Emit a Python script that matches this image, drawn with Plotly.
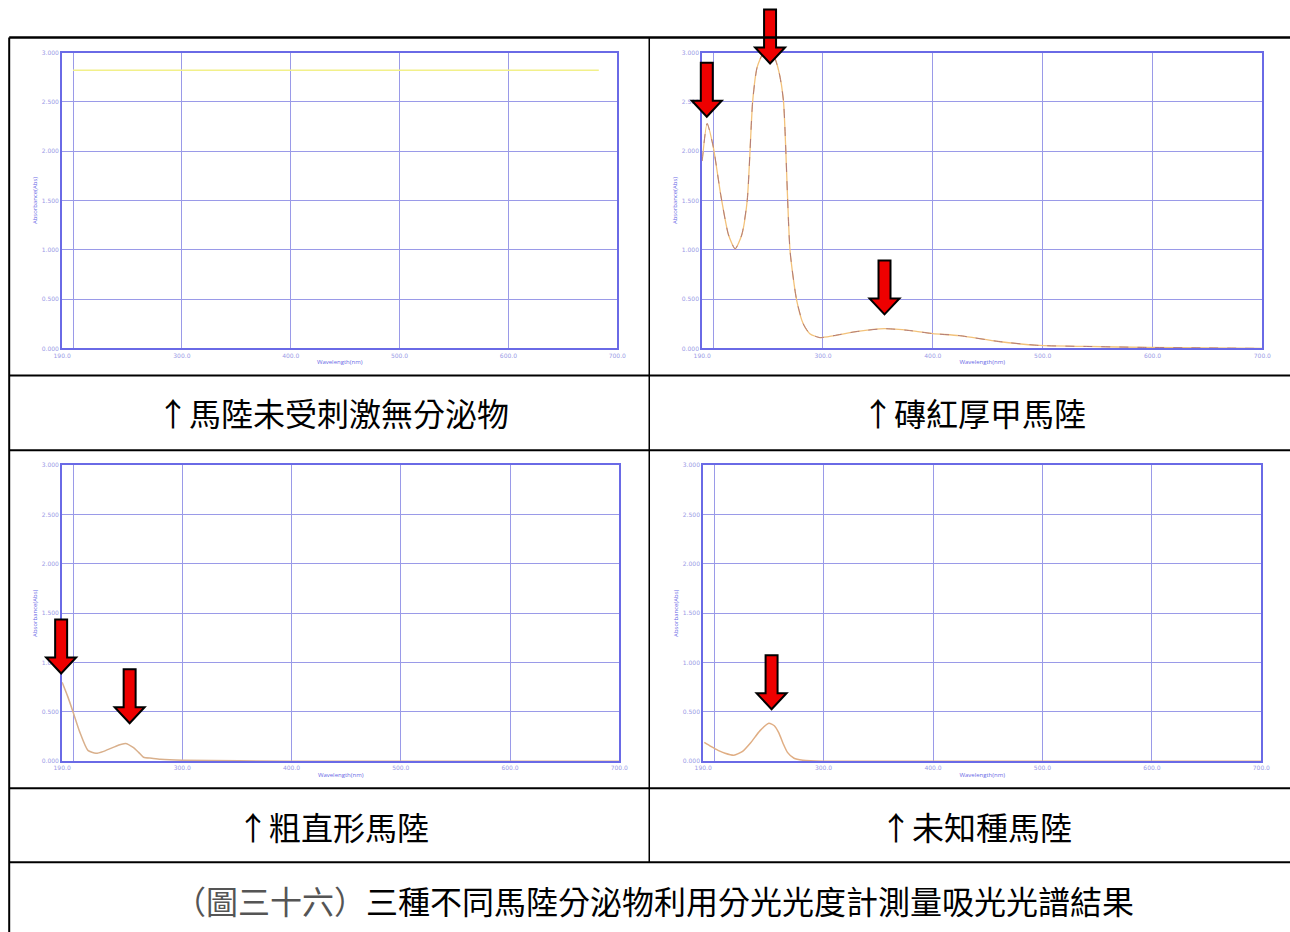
import plotly.graph_objects as go

W, H = 1290, 932

# ---------------- data ----------------
# top-left: 馬陸未受刺激無分泌物 (flat yellow trace)
tl_nm = [200, 683]
tl_abs = [2.82, 2.82]

# top-right: 磚紅厚甲馬陸
tr_nm = [190, 194.5, 200, 207, 214, 220, 226, 231, 236, 240, 245, 250, 255, 260, 264, 270, 276, 282,
         288, 297, 310, 330, 356, 380, 400, 424, 460, 497, 540, 595, 650, 700]
tr_abs = [1.90, 2.28, 2.05, 1.55, 1.15, 1.01, 1.15, 1.50, 2.51, 2.85, 2.98, 3.00, 2.97, 2.80, 2.51, 0.99,
          0.49, 0.25, 0.15, 0.11, 0.13, 0.17, 0.20, 0.18, 0.15, 0.13, 0.07, 0.03, 0.02, 0.01, 0.005, 0.0]

# bottom-left: 粗直形馬陸
bl_nm = [190, 195, 200, 206, 213.6, 221, 228, 234.5, 241, 248, 255, 260, 264.5, 272, 280, 300, 400, 500, 600, 700]
bl_abs = [0.80, 0.66, 0.50, 0.30, 0.11, 0.08, 0.10, 0.13, 0.16, 0.18, 0.14, 0.09, 0.04, 0.03, 0.02, 0.01, 0.0, 0.0, 0.0, 0.0]

# bottom-right: 未知種馬陸
br_nm = [191, 197, 203.6, 210, 218, 226, 233.6, 242, 250, 255, 259, 263, 267, 273, 281, 300, 400, 500, 600, 700]
br_abs = [0.19, 0.15, 0.11, 0.08, 0.06, 0.10, 0.19, 0.31, 0.385, 0.36, 0.29, 0.18, 0.09, 0.03, 0.01, 0.0, 0.0, 0.0, 0.0, 0.0]

# arrow tips (nm, Abs) per panel
tr_arrows = [(194.2, 2.35), (251.8, 2.89), (356, 0.345)]
bl_arrows = [(189.1, 0.89), (251.8, 0.385)]
br_arrows = [(252.5, 0.527)]

x_ticks = [190, 300, 400, 500, 600, 700]
x_ticktext = ["190.0", "300.0", "400.0", "500.0", "600.0", "700.0"]
x_grid = [200, 300, 400, 500, 600]
y_ticks = [0, 0.5, 1.0, 1.5, 2.0, 2.5, 3.0]
y_ticktext = ["0.000", "0.500", "1.000", "1.500", "2.000", "2.500", "3.000"]

captions = ["↑馬陸未受刺激無分泌物", "↑磚紅厚甲馬陸", "↑粗直形馬陸", "↑未知種馬陸"]
fig_caption_a = "（圖三十六）"
fig_caption_b = "三種不同馬陸分泌物利用分光光度計測量吸光光譜結果"

XR = [190, 700]
YR = [0, 3]

# panel pixel boxes (left, right, top, bottom) in the target picture
panels = {
    "tl": (61, 617, 52, 348),
    "tr": (702, 1263, 52, 348),
    "bl": (61, 619, 465, 761),
    "br": (703, 1262, 465, 761),
}

# compensation for the rendering inset observed in the output picture
OX, SX, OY, SY = 7.8, 0.9875, 3.4, 0.993

def px(x):
    return ((x - OX) / SX) / W

def py(y):
    return 1 - ((y - OY) / SY) / H

fig = go.Figure()

axis_color = "#6a6ae6"
grid_color = "#9a9ae8"
tick_font = dict(size=6, color="#9a9ae6", family="DejaVu Sans")

names = ["tl", "tr", "bl", "br"]
for i, key in enumerate(names):
    l, r, t, b = panels[key]
    n = i + 1
    xa = dict(domain=[px(l), px(r)], range=XR, tickvals=x_ticks, ticktext=x_ticktext,
              showgrid=False, showline=True, linecolor=axis_color, linewidth=2, mirror=True,
              ticks="", tickfont=tick_font, zeroline=False, fixedrange=True,
              minor=dict(tickvals=x_grid, showgrid=True, gridcolor=grid_color, gridwidth=1),
              title=dict(text="Wavelength(nm)", font=dict(size=6, color="#6a6ae6"), standoff=2),
              anchor="y" if n == 1 else f"y{n}")
    ya = dict(domain=[py(b), py(t)], range=YR, tickvals=y_ticks, ticktext=y_ticktext,
              showgrid=True, gridcolor=grid_color, gridwidth=1,
              showline=True, linecolor=axis_color, linewidth=2, mirror=True,
              ticks="", tickfont=tick_font, zeroline=False, fixedrange=True,
              title=dict(text="Absorbance(Abs)", font=dict(size=6, color="#6a6ae6"), standoff=4),
              anchor="x" if n == 1 else f"x{n}")
    fig.update_layout(**{("xaxis" if n == 1 else f"xaxis{n}"): xa,
                         ("yaxis" if n == 1 else f"yaxis{n}"): ya})

def add(x, y, n, **kw):
    fig.add_trace(go.Scatter(x=x, y=y, mode="lines",
                             xaxis="x" if n == 1 else f"x{n}",
                             yaxis="y" if n == 1 else f"y{n}",
                             showlegend=False, hoverinfo="skip", **kw))

add(tl_nm, tl_abs, 1, line=dict(color="#f2f08a", width=1.5))
add(tr_nm, tr_abs, 2, line=dict(color="#f3c27a", width=1.3, shape="spline", smoothing=0.6))
add(tr_nm, tr_abs, 2, line=dict(color="#b07a7a", width=1.0, dash="dash", shape="spline", smoothing=0.6))
add(bl_nm, bl_abs, 3, line=dict(color="#d9b08c", width=1.5, shape="spline", smoothing=0.6))
add(br_nm, br_abs, 4, line=dict(color="#e0ae84", width=1.5, shape="spline", smoothing=0.6))

# arrows
def arrow_path(tx, ty):
    sw, sl, hw, hh = 6, 38, 15, 16
    pts = [(tx - sw, ty - hh - sl), (tx + sw, ty - hh - sl), (tx + sw, ty - hh),
           (tx + hw, ty - hh), (tx, ty), (tx - hw, ty - hh), (tx - sw, ty - hh)]
    return "M " + " L ".join(f"{px(a):.5f},{py(c):.5f}" for a, c in pts) + " Z"

def data_to_px(key, nm, ab):
    l, r, t, b = panels[key]
    xp = l + (nm - XR[0]) / (XR[1] - XR[0]) * (r - l)
    yp = b - (ab - YR[0]) / (YR[1] - YR[0]) * (b - t)
    return xp, yp

shapes = []
for key, arrs in (("tr", tr_arrows), ("bl", bl_arrows), ("br", br_arrows)):
    for nm, ab in arrs:
        tx, ty = data_to_px(key, nm, ab)
        shapes.append(dict(type="path", xref="paper", yref="paper", path=arrow_path(tx, ty),
                           fillcolor="#ee0000", line=dict(color="black", width=2)))

# table lines
def hline(y, x0=8, x1=1300, w=2):
    shapes.append(dict(type="line", xref="paper", yref="paper", x0=px(x0), x1=px(x1),
                       y0=py(y), y1=py(y), line=dict(color="black", width=w)))

def vline(x, y0, y1, w=2):
    shapes.append(dict(type="line", xref="paper", yref="paper", x0=px(x), x1=px(x),
                       y0=py(y0), y1=py(y1), line=dict(color="black", width=w)))

hline(37, w=2.5)
hline(375)
hline(450)
hline(788)
hline(862)
vline(8, 37, 945)
vline(649, 37, 862, w=1.5)

fig.update_layout(shapes=shapes)

cap_font = dict(family="Noto Sans CJK TC", size=32, color="black")
cap_pos = [(332, 412), (974, 412), (332, 826), (976, 826)]
annotations = []
for txt, (cx, cy) in zip(captions, cap_pos):
    annotations.append(dict(text=txt, x=px(cx), y=py(cy), xref="paper", yref="paper",
                            showarrow=False, font=cap_font, xanchor="center", yanchor="middle"))
annotations.append(dict(text=f"<span style='color:#555'>{fig_caption_a}</span>{fig_caption_b}",
                        x=px(654), y=py(900), xref="paper", yref="paper", showarrow=False,
                        font=dict(family="Noto Sans CJK TC", size=32, color="black"),
                        xanchor="center", yanchor="middle"))
fig.update_layout(annotations=annotations)

fig.update_layout(width=W, height=H, margin=dict(l=0, r=0, t=0, b=0),
                  paper_bgcolor="white", plot_bgcolor="white", showlegend=False)

fig.write_html("out.html", config={"displayModeBar": False})
